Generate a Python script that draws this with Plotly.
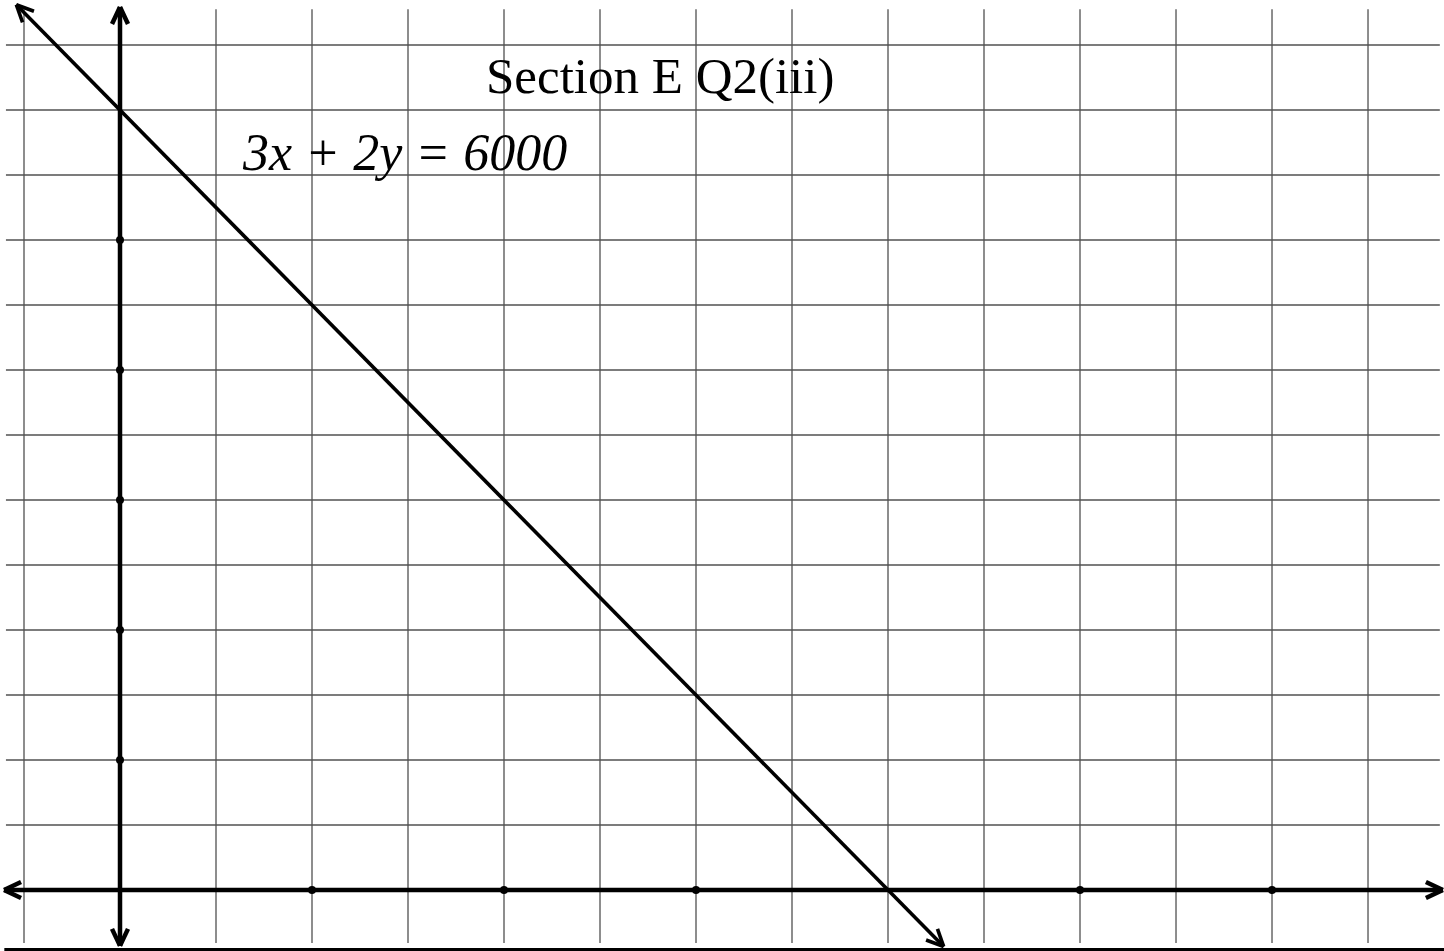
import numpy as np
import plotly.graph_objects as go

# Line 3x + 2y = 6000
coef_x, coef_y, rhs = 3, 2, 6000
line_x = [-270, 2145]
line_y = [(rhs - coef_x * x) / coef_y for x in line_x]

# Grid positions (step 250) and marked points on the axes (step 500)
grid_x = [-250, 250, 500, 750, 1000, 1250, 1500, 1750, 2000, 2250, 2500, 2750, 3000, 3250]
grid_y = [250, 500, 750, 1000, 1250, 1500, 1750, 2000, 2250, 2500, 2750, 3000, 3250]
dots_x = [500, 1000, 1500, 2500, 3000]
dots_y = [500, 1000, 1500, 2000, 2500]

title_text = "Section E Q2(iii)"
eq_text = "3x + 2y = 6000"

W, H = 1444, 951
X_RANGE = [-312.5, 3447.9]
Y_RANGE = [-234.6, 3423.1]
SX = W / (X_RANGE[1] - X_RANGE[0])   # px per unit (x)
SY = H / (Y_RANGE[1] - Y_RANGE[0])   # px per unit (y)

# extents of the drawn grid / axes
GRID_X_SPAN = [-297, 3437]
GRID_Y_SPAN = [-204, 3388]
AXIS_X_SPAN = [-302, 3445]
AXIS_Y_SPAN = [-215, 3396]

GRID_COLOR = "#505050"

fig = go.Figure()

# grid
gx, gy = [], []
for v in grid_x:
    gx += [v, v, None]
    gy += [GRID_Y_SPAN[0], GRID_Y_SPAN[1], None]
for v in grid_y:
    gx += [GRID_X_SPAN[0], GRID_X_SPAN[1], None]
    gy += [v, v, None]
fig.add_trace(go.Scatter(x=gx, y=gy, mode="lines",
                         line=dict(color=GRID_COLOR, width=1.3),
                         hoverinfo="skip", showlegend=False))


def arrowhead(tip_x, tip_y, dir_x, dir_y, length=17, half=8):
    """Open chevron at a tip; direction given in data units."""
    px, py = dir_x * SX, -dir_y * SY
    n = np.hypot(px, py)
    px, py = px / n, py / n
    nx, ny = -py, px
    xs, ys = [], []
    for s in (1, -1):
        bx = -length * px + s * half * nx
        by = -length * py + s * half * ny
        xs += [tip_x + bx / SX, tip_x, None]
        ys += [tip_y - by / SY, tip_y, None]
    return xs, ys


# axes with arrows on both ends
ax_x = [AXIS_X_SPAN[0], AXIS_X_SPAN[1], None, 0, 0, None]
ax_y = [0, 0, None, AXIS_Y_SPAN[0], AXIS_Y_SPAN[1], None]
for tx, ty, dx, dy in [(AXIS_X_SPAN[1], 0, 1, 0), (AXIS_X_SPAN[0], 0, -1, 0),
                       (0, AXIS_Y_SPAN[1], 0, 1), (0, AXIS_Y_SPAN[0], 0, -1)]:
    hx, hy = arrowhead(tx, ty, dx, dy)
    ax_x += hx
    ax_y += hy
fig.add_trace(go.Scatter(x=ax_x, y=ax_y, mode="lines",
                         line=dict(color="black", width=4.5),
                         hoverinfo="skip", showlegend=False))

# dots on axes
fig.add_trace(go.Scatter(x=dots_x + [0] * len(dots_y), y=[0] * len(dots_x) + dots_y,
                         mode="markers", marker=dict(color="black", size=8),
                         hoverinfo="skip", showlegend=False))

# the sloped line with arrows at both ends
lx, ly = list(line_x) + [None], list(line_y) + [None]
ddx, ddy = line_x[1] - line_x[0], line_y[1] - line_y[0]
for tx, ty, dx, dy in [(line_x[1], line_y[1], ddx, ddy), (line_x[0], line_y[0], -ddx, -ddy)]:
    hx, hy = arrowhead(tx, ty, dx, dy)
    lx += hx
    ly += hy
fig.add_trace(go.Scatter(x=lx, y=ly, mode="lines",
                         line=dict(color="black", width=3.6),
                         hoverinfo="skip", showlegend=False))

# bottom rule
fig.add_shape(type="line", xref="paper", yref="paper", x0=0.003, x1=1, y0=0.0016, y1=0.0016,
              line=dict(color="black", width=3))

fig.add_annotation(x=1406, y=3131, text=title_text, showarrow=False,
                   xanchor="center", yanchor="middle",
                   font=dict(family="Liberation Serif", size=51, color="black"))
fig.add_annotation(x=312.5, y=2835, text=eq_text, showarrow=False,
                   xanchor="left", yanchor="middle",
                   font=dict(family="Liberation Serif", size=52, color="black", style="italic"))

fig.update_xaxes(range=X_RANGE, visible=False, fixedrange=True)
fig.update_yaxes(range=Y_RANGE, visible=False, fixedrange=True)
fig.update_layout(width=W, height=H, autosize=False,
                  margin=dict(l=0, r=0, t=0, b=0, pad=0),
                  plot_bgcolor="white", paper_bgcolor="white")

fig.write_html("out.html")
